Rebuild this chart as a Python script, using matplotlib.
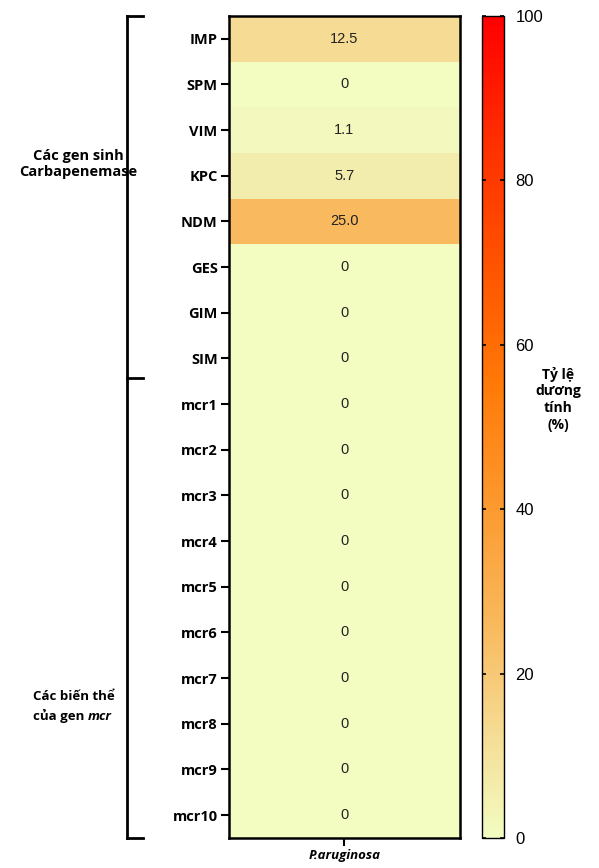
import numpy as np
import matplotlib
matplotlib.use("Agg")
import matplotlib.pyplot as plt
from matplotlib.colors import LinearSegmentedColormap

# -------------------------------------------------------
# data
# -------------------------------------------------------
genes = ["IMP", "SPM", "VIM", "KPC", "NDM", "GES", "GIM", "SIM",
         "mcr1", "mcr2", "mcr3", "mcr4", "mcr5", "mcr6", "mcr7",
         "mcr8", "mcr9", "mcr10"]
values = [12.5, 0, 1.1, 5.7, 25.0, 0, 0, 0,
          0, 0, 0, 0, 0, 0, 0, 0, 0, 0]
cell_labels = ["12.5", "0", "1.1", "5.7", "25.0", "0", "0", "0",
               "0", "0", "0", "0", "0", "0", "0", "0", "0", "0"]
species = ["P.aruginosa"]
cbar_ticks = [0, 20, 40, 60, 80, 100]

BOLD = "Open Sans"
REG = "Liberation Sans"

cmap = LinearSegmentedColormap.from_list(
    "posrate",
    [(0.0, "#f3fcc1"), (0.125, "#f5dc94"), (0.25, "#f9bb60"),
     (0.40, "#fc9a30"), (0.55, "#ff7a08"), (0.70, "#ff5200"),
     (0.85, "#ff2e00"), (1.0, "#ff0000")])

fig = plt.figure(figsize=(5.99, 8.68), dpi=100)
ax = fig.add_axes([0.382, 0.0346, 0.386, 0.9470])
cax = fig.add_axes([0.805, 0.0346, 0.037, 0.9470])

data = np.array(values).reshape(-1, 1)
im = ax.imshow(data, cmap=cmap, vmin=0, vmax=100, aspect="auto",
               interpolation="nearest")

for i, lab in enumerate(cell_labels):
    ax.text(0, i, lab, ha="center", va="center", fontsize=10.5,
            family=REG, color="#222222")

ax.set_yticks(range(len(genes)))
ax.set_yticklabels(genes, fontsize=10.5, fontweight="bold", family=BOLD)
ax.set_xticks([0])
ax.set_xticklabels(species, fontsize=9.5, fontweight="bold",
                   fontstyle="italic", family=BOLD)
ax.tick_params(axis="both", length=6, width=1.5, pad=2)
for s in ax.spines.values():
    s.set_linewidth(1.8)

cb = fig.colorbar(im, cax=cax, ticks=cbar_ticks)
cb.outline.set_linewidth(1.0)
cax.tick_params(labelsize=12, direction="in", length=3, width=1.2,
                left=True, right=True, pad=8)
for t in cax.get_yticklabels():
    t.set_family(REG)

fig.text(0.932, 0.54, "Tỷ lệ\ndương\ntính\n(%)", ha="center", va="center",
         fontsize=10, fontweight="bold", family=BOLD, linespacing=1.25)

# group brackets (figure coordinates)
bx = 127 / 599
y_top = 1 - 16 / 868
y_mid = 1 - 378 / 868
y_bot = 1 - 838 / 868
tick_len = 16 / 599
fig.add_artist(plt.Line2D([bx, bx], [y_bot, y_top], color="black", lw=2,
                          transform=fig.transFigure))
for yy in (y_top, y_mid, y_bot):
    fig.add_artist(plt.Line2D([bx, bx + tick_len], [yy, yy], color="black",
                              lw=2, transform=fig.transFigure))

fig.text(78 / 599, 1 - 164 / 868, "Các gen sinh\nCarbapenemase",
         ha="center", va="center", fontsize=10.5, fontweight="bold",
         family=BOLD, linespacing=1.15)

fig.text(33 / 599, 1 - 697 / 868, "Các biến thể", ha="left",
         va="center", fontsize=9.5, fontweight="bold", family=BOLD)
g2 = fig.text(33 / 599, 1 - 716 / 868, "của gen ", ha="left", va="center",
              fontsize=9.5, fontweight="bold", family=BOLD)
ax.annotate("mcr", xy=(1, 0), xycoords=g2, ha="left", va="bottom",
            fontsize=9.5, fontweight="bold", fontstyle="italic",
            family=BOLD, annotation_clip=False)

fig.savefig("out.png", dpi=100)
